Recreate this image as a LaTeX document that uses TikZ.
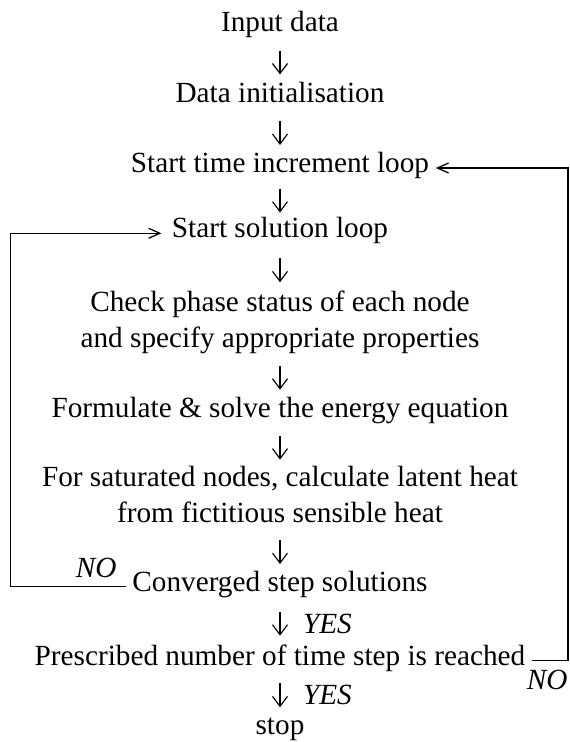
\documentclass[tikz,border=0pt]{standalone}
\usepackage{fontspec}
\setmainfont{Liberation Serif}
\usepackage{tikz}
\usetikzlibrary{positioning,arrows.meta}
\tikzset{
  txt/.style={inner xsep=2.5pt, inner ysep=0pt, text height=8.83pt, text depth=5.23pt,
    font=\fontsize{11.7}{14.06}\selectfont},
  txtii/.style={txt, align=center, text height=22.89pt},
  dn/.style={draw=black, line width=0.45pt, -{Straight Barb[length=4pt,width=6pt]},
    shorten <=#1, shorten >=#1},
  dn/.default=2pt,
  lp/.style={draw=black, line width=0.5pt, -{Straight Barb[length=4.5pt,width=4pt]}},
  lab/.style={inner sep=0pt, font=\fontsize{11.7}{14.06}\selectfont\itshape}
}

\begin{document}
\begin{tikzpicture}[x=0.4pt, y=-0.4pt]
  \useasboundingbox (0,0) rectangle (569,742);

  % Main column
  \node[txt] (input) at (280,27) {Input data};
  \node[txt] (init) at (280,98) {Data initialisation};
  \node[txt] (time) at (280,168) {Start time increment loop};
  \node[txt] (sol) at (280,233.3) {Start solution loop};
  \node[txtii] (check) at (280,325) {Check phase status of each node\\and specify appropriate properties};
  \node[txt] (solve) at (280,413) {Formulate \& solve the energy equation};
  \node[txtii] (latent) at (280,500) {For saturated nodes, calculate latent heat\\from fictitious sensible heat};
  \node[txt] (conv) at (280,586.7) {Converged step solutions};
  \node[txt] (presc) at (280,660.7) {Prescribed number of time step is reached};
  \node[txt] (stop) at (280,730) {stop};

  % Down arrows
  \draw[dn=2.2pt] (input) -- (init);
  \draw[dn=2pt] (init) -- (time);
  \draw[dn=1.06pt] (time) -- (sol);
  \draw[dn=2.84pt] (sol) -- (check);
  \draw[dn=2.1pt] (check) -- (solve);
  \draw[dn=1.9pt] (solve) -- (latent);
  \draw[dn=1.84pt] (latent) -- (conv);
  \draw[dn=2.8pt] (conv) -- node[lab, right=9pt] (yes1) {YES} (presc);
  \draw[dn=1.86pt] (presc) -- node[lab, right=9pt] (yes2) {YES} (stop);

  % Loops back
  \coordinate (lc) at (10.7,586.7);
  \coordinate (rc) at (568,660.7);
  \draw[lp, shorten >=1.5pt] (conv) -| (lc) |- (sol);
  \draw[lp] (presc) -| (rc) |- (time);

  % Loop labels
  \node[lab, above left=3.3pt and 3.5pt of conv.west] (nol) {NO};
  \node[lab, below left=3.6pt and 0pt of rc] (nor) {NO};
\end{tikzpicture}
\end{document}
